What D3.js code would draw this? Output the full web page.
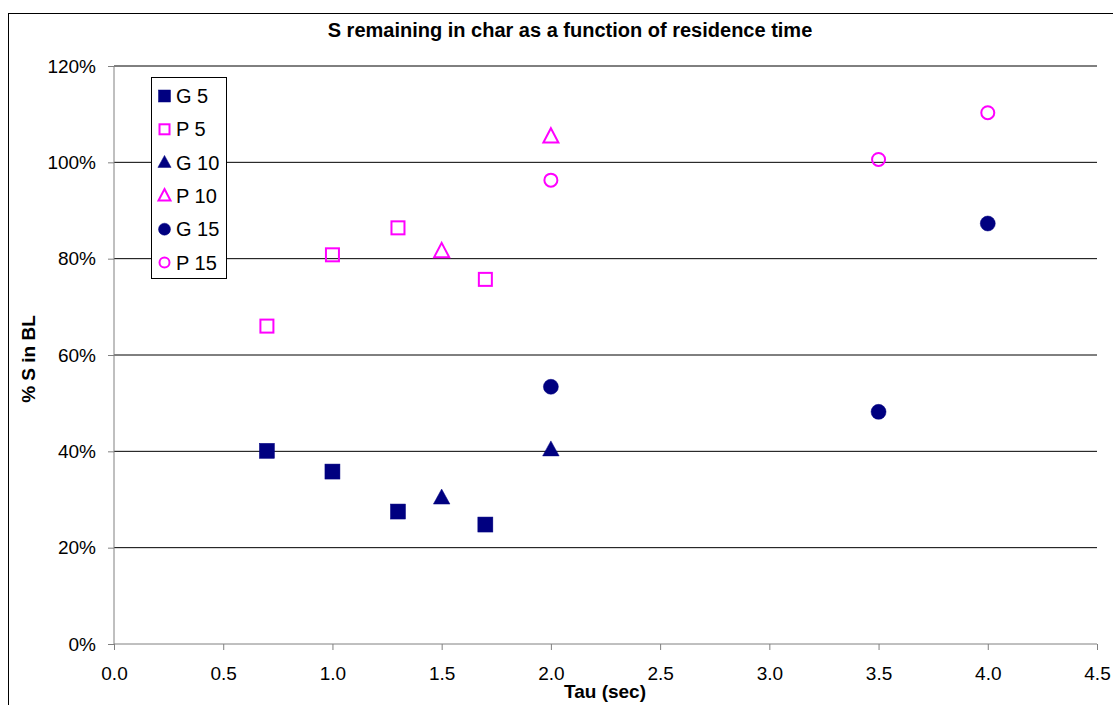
<!DOCTYPE html>
<html><head><meta charset="utf-8">
<script src="https://cdn.jsdelivr.net/npm/d3@7"></script>
<style>body{margin:0;background:#fff}svg{display:block}text{font-family:Arial,"Liberation Sans",sans-serif}</style>
</head><body><svg id="c" width="1113" height="705"></svg>
<script>
const title = "S remaining in char as a function of residence time";
const xTitle = "Tau (sec)";
const yTitle = "% S in BL";
const xTicks = [0, 0.5, 1.0, 1.5, 2.0, 2.5, 3.0, 3.5, 4.0, 4.5];
const yTicks = [0, 0.2, 0.4, 0.6, 0.8, 1.0, 1.2];
const seriesNames = ["G 5", "P 5", "G 10", "P 10", "G 15", "P 15"];
const seriesShapes = ["square", "square", "triangle", "triangle", "circle", "circle"];
const seriesFilled = [true, false, true, false, true, false];
const g5x = [0.7, 1.0, 1.3, 1.7];
const g5y = [0.401, 0.358, 0.275, 0.248];
const p5x = [0.7, 1.0, 1.3, 1.7];
const p5y = [0.660, 0.808, 0.864, 0.757];
const g10x = [1.5, 2.0];
const g10y = [0.303, 0.403];
const p10x = [1.5, 2.0];
const p10y = [0.815, 1.053];
const g15x = [2.0, 3.5, 4.0];
const g15y = [0.534, 0.482, 0.873];
const p15x = [2.0, 3.5, 4.0];
const p15y = [0.963, 1.006, 1.103];

const navy = "#000080", magenta = "#FF00FF";
const svg = d3.select("#c");
const L = 114, R = 1097, T = 66, B = 644;
const x = d3.scaleLinear().domain([0, 4.5]).range([L, R]);
const y = d3.scaleLinear().domain([0, 1.2]).range([B, T]);

// outer border
svg.append("rect").attr("x", 8.5).attr("y", 13.5).attr("width", 1200).attr("height", 800)
  .attr("fill", "none").attr("stroke", "#000").attr("stroke-width", 1);

// gridlines
svg.append("g").selectAll("line").data(yTicks.filter(d => d > 0)).join("line")
  .attr("x1", L).attr("x2", R).attr("y1", d => y(d)).attr("y2", d => y(d))
  .attr("stroke", "#000").attr("stroke-width", 1);

// axes
const yAxis = d3.axisLeft(y).tickValues(yTicks).tickFormat(d3.format(".0%")).tickSize(6).tickPadding(12);
const gy = svg.append("g").attr("transform", `translate(${L},0)`).call(yAxis);
gy.select(".domain").attr("stroke", "#808080").attr("d", `M0,${T}V${B}`);
gy.selectAll(".tick line").attr("stroke", "#808080");
gy.selectAll(".tick text").attr("font-size", 19).attr("fill", "#000").attr("font-family", "Arial, 'Liberation Sans', sans-serif");

const xAxis = d3.axisBottom(x).tickValues(xTicks).tickFormat(d3.format(".1f")).tickSize(6).tickPadding(17);
const gx = svg.append("g").attr("transform", `translate(0,${B})`).call(xAxis);
gx.select(".domain").attr("stroke", "#808080").attr("d", `M${L},0H${R}`);
gx.selectAll(".tick line").attr("stroke", "#808080");
gx.selectAll(".tick text").attr("font-size", 19).attr("fill", "#000").attr("font-family", "Arial, 'Liberation Sans', sans-serif");

// titles
svg.append("text").attr("x", 570).attr("y", 37).attr("text-anchor", "middle")
  .attr("font-size", 20).attr("font-weight", "bold").text(title);
svg.append("text").attr("x", 605).attr("y", 698).attr("text-anchor", "middle")
  .attr("font-size", 19).attr("font-weight", "bold").text(xTitle);
svg.append("text").attr("transform", "translate(35,359) rotate(-90)").attr("text-anchor", "middle")
  .attr("font-size", 19).attr("font-weight", "bold").text(yTitle);

function drawMarker(g, shape, filled, cx, cy, s) {
  const fill = filled ? navy : "none";
  const stroke = filled ? navy : magenta;
  const sw = filled ? 0.5 : 2;
  if (shape === "square") {
    const h = filled ? s / 2 : s / 2 - 1;
    g.append("rect").attr("x", cx - h).attr("y", cy - h).attr("width", 2 * h).attr("height", 2 * h)
      .attr("fill", fill).attr("stroke", stroke).attr("stroke-width", sw);
  } else if (shape === "triangle") {
    const w = filled ? s * 1.1 : s * 1.0, hh = filled ? s : s * 0.95;
    g.append("path").attr("d", `M${cx},${cy - hh * 0.6}L${cx + w / 2},${cy + hh * 0.4}L${cx - w / 2},${cy + hh * 0.4}Z`)
      .attr("fill", fill).attr("stroke", stroke).attr("stroke-width", sw).attr("stroke-linejoin", "miter");
  } else {
    const r = filled ? s / 2 : s / 2 - 1;
    g.append("circle").attr("cx", cx).attr("cy", cy).attr("r", r)
      .attr("fill", fill).attr("stroke", stroke).attr("stroke-width", sw);
  }
}

const seriesData = [[g5x, g5y], [p5x, p5y], [g10x, g10y], [p10x, p10y], [g15x, g15y], [p15x, p15y]];
const pg = svg.append("g");
seriesData.forEach((sd, i) => {
  sd[0].forEach((xv, j) => drawMarker(pg, seriesShapes[i], seriesFilled[i], x(xv), y(sd[1][j]), 15));
});

// legend
const lg = svg.append("g");
lg.append("rect").attr("x", 151.5).attr("y", 77.5).attr("width", 75).attr("height", 201)
  .attr("fill", "#fff").attr("stroke", "#000").attr("stroke-width", 1);
seriesNames.forEach((n, i) => {
  const cy = 96 + i * 33.3;
  drawMarker(lg, seriesShapes[i], seriesFilled[i], 164.5, cy, 12);
  lg.append("text").attr("x", 176).attr("y", cy + 7).attr("font-size", 20).text(n);
});
</script></body></html>
